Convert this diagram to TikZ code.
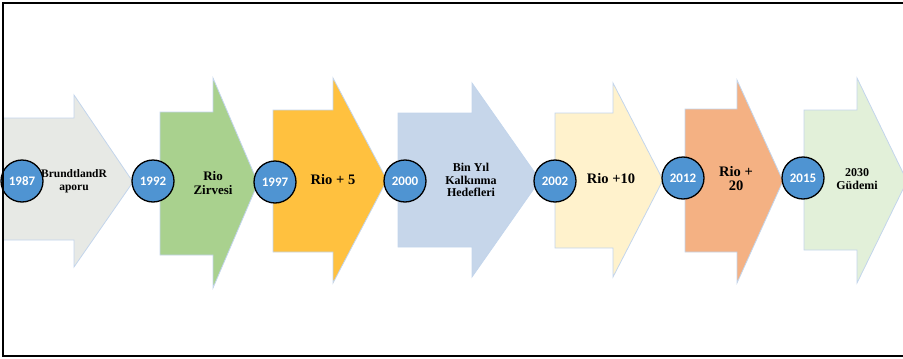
\documentclass[tikz,border=0pt]{standalone}
\usepackage{fontspec}
\setmainfont{Liberation Serif}
\newfontfamily\yearfont{Carlito}
\usepackage{tikz}

\definecolor{arrowgrey}{HTML}{E7E9E5}
\definecolor{arrowgreen}{HTML}{A9D18E}
\definecolor{arrowgold}{HTML}{FFC13F}
\definecolor{arrowblue}{HTML}{C6D6EA}
\definecolor{arrowcream}{HTML}{FFF2CC}
\definecolor{arrowsalmon}{HTML}{F4B183}
\definecolor{arrowmint}{HTML}{E2F0D9}
\definecolor{edgeblue}{HTML}{C3D5EC}
\definecolor{yearblue}{HTML}{4F94D2}

\begin{document}
\begin{tikzpicture}[x=1pt, y=-1pt,
    chevron/.style={draw=edgeblue, line width=0.8pt},
    yearnode/.style={circle, draw=black, line width=1.3pt, fill=yearblue, minimum size=42pt, inner sep=0pt,
      text=white, font=\yearfont\bfseries\fontsize{13}{13}\selectfont},
    eventtext/.style 2 args={align=center, font=\bfseries\fontsize{#1}{#2}\selectfont}]
    \useasboundingbox (0, 0) rectangle (903, 359);

    % the chevrons
    \draw[chevron, fill=arrowgrey] (3, 118) -- (74, 118) -- (74, 95) -- (133, 182) -- (74, 267) -- (74, 240) -- (3, 240) -- cycle;
    \draw[chevron, fill=arrowgreen] (160, 112) -- (213, 112) -- (213, 78) -- (258, 183) -- (213, 288) -- (213, 255) -- (160, 255) -- cycle;
    \draw[chevron, fill=arrowgold] (273, 110) -- (333, 110) -- (333, 78) -- (387, 180) -- (333, 283) -- (333, 252) -- (273, 252) -- cycle;
    \draw[chevron, fill=arrowblue] (398, 113) -- (472, 113) -- (472, 83) -- (540, 180) -- (472, 277) -- (472, 247) -- (398, 247) -- cycle;
    \draw[chevron, fill=arrowcream] (555, 113) -- (613, 113) -- (613, 83) -- (663, 180) -- (613, 277) -- (613, 248) -- (555, 248) -- cycle;
    \draw[chevron, fill=arrowsalmon] (685, 109) -- (737, 109) -- (737, 80) -- (783, 181) -- (737, 283) -- (737, 252) -- (685, 252) -- cycle;
    \draw[chevron, fill=arrowmint] (804, 110) -- (857, 110) -- (857, 78) -- (907, 181) -- (857, 283) -- (857, 250) -- (804, 250) -- cycle;

    % the events
    \node[eventtext={11.5}{12.5}] (brundtland) at (74, 181) {BrundtlandR\\aporu};
    \node[eventtext={13}{14}] (zirve) at (213, 183) {Rio\\Zirvesi};
    \node[eventtext={14.5}{14}] (rio5) at (333, 180) {Rio + 5};
    \node[eventtext={12}{12.5}] (binyil) at (471, 180) {Bin Yıl\\Kalkınma\\Hedefleri};
    \node[eventtext={14.5}{14}] (rio10) at (611, 179) {Rio +10};
    \node[eventtext={14.5}{14}] (rio20) at (736, 179) {Rio +\\20};
    \node[eventtext={12}{12.5}] (gundem) at (857, 179) {2030\\Güdemi};

    % the years
    \node[yearnode] (y1987) at (22, 181) {1987};
    \node[yearnode] (y1992) at (153, 181) {1992};
    \node[yearnode] (y1997) at (275, 182) {1997};
    \node[yearnode] (y2000) at (405, 181) {2000};
    \node[yearnode] (y2002) at (555, 181) {2002};
    \node[yearnode] (y2012) at (683, 178) {2012};
    \node[yearnode] (y2015) at (803, 178) {2015};

    % the frame
    \draw[line width=1.5pt] (910, 3) -- (3, 3) -- (3, 356) -- (910, 356);
  \end{tikzpicture}
\end{document}
